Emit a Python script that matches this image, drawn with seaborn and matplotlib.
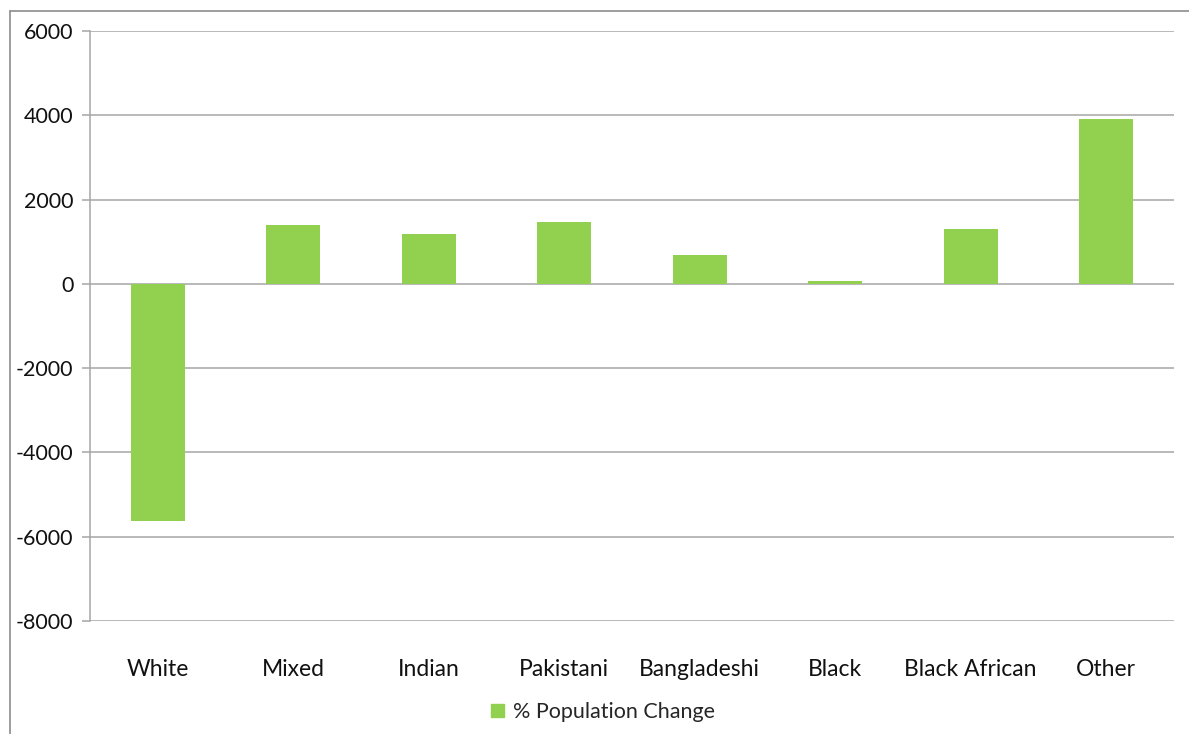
import matplotlib
matplotlib.use("Agg")
import matplotlib.pyplot as plt
from matplotlib.lines import Line2D
import seaborn as sns
import pandas as pd

categories = ["White", "Mixed", "Indian", "Pakistani", "Bangladeshi",
              "Black", "Black African", "Other"]
pop_change = [-5625, 1405, 1190, 1475, 690, 75, 1305, 3910]
y_ticks = [-8000, -6000, -4000, -2000, 0, 2000, 4000, 6000]
series_name = "% Population Change"

bar_color = "#92d050"
grid_color = "#a6a6a6"

sns.set_theme(style="white")
plt.rcParams["font.family"] = ["Lato", "DejaVu Sans"]

W, H = 1189, 734
fig = plt.figure(figsize=(W / 100, H / 100), dpi=100)
ax = fig.add_axes([90 / W, (H - 621) / H, (1174 - 90) / W, (621 - 31) / H])

df = pd.DataFrame({"group": categories, "change": pop_change})
sns.barplot(data=df, x="group", y="change", color=bar_color, width=0.4,
            saturation=1, linewidth=0, ax=ax, zorder=3)

ax.set_xlim(-0.5, len(categories) - 0.5)
ax.set_ylim(y_ticks[0], y_ticks[-1])
ax.set_yticks(y_ticks)
ax.set_yticklabels([str(v) for v in y_ticks])
ax.set_xlabel("")
ax.set_ylabel("")

for v in y_ticks:
    ax.axhline(v, color=grid_color, lw=1.1, zorder=1)

for side in ["top", "right", "bottom"]:
    ax.spines[side].set_visible(False)
ax.spines["left"].set_color(grid_color)
ax.spines["left"].set_linewidth(1.1)

ax.tick_params(axis="y", left=True, length=6, width=1.1, color=grid_color,
               pad=6, labelsize=15.5, labelcolor="#111111")
ax.tick_params(axis="x", bottom=False, pad=21, labelsize=16.5, labelcolor="#111111")

fig.legend(handles=[plt.Rectangle((0, 0), 1, 1, color=bar_color)],
           labels=[series_name], loc="center",
           bbox_to_anchor=(603 / W, 1 - 712 / H), frameon=False,
           fontsize=15.5, handlelength=0.6, handleheight=0.6,
           handletextpad=0.4)

# outer chart frame (left and top edges)
fig.add_artist(Line2D([10 / W, 10 / W], [0, 1 - 10.5 / H],
                      transform=fig.transFigure, color="#8c8c8c", lw=1.2))
fig.add_artist(Line2D([10 / W, 1], [1 - 10.5 / H, 1 - 10.5 / H],
                      transform=fig.transFigure, color="#8c8c8c", lw=1.2))

fig.savefig("out.png", dpi=100, facecolor="white")
